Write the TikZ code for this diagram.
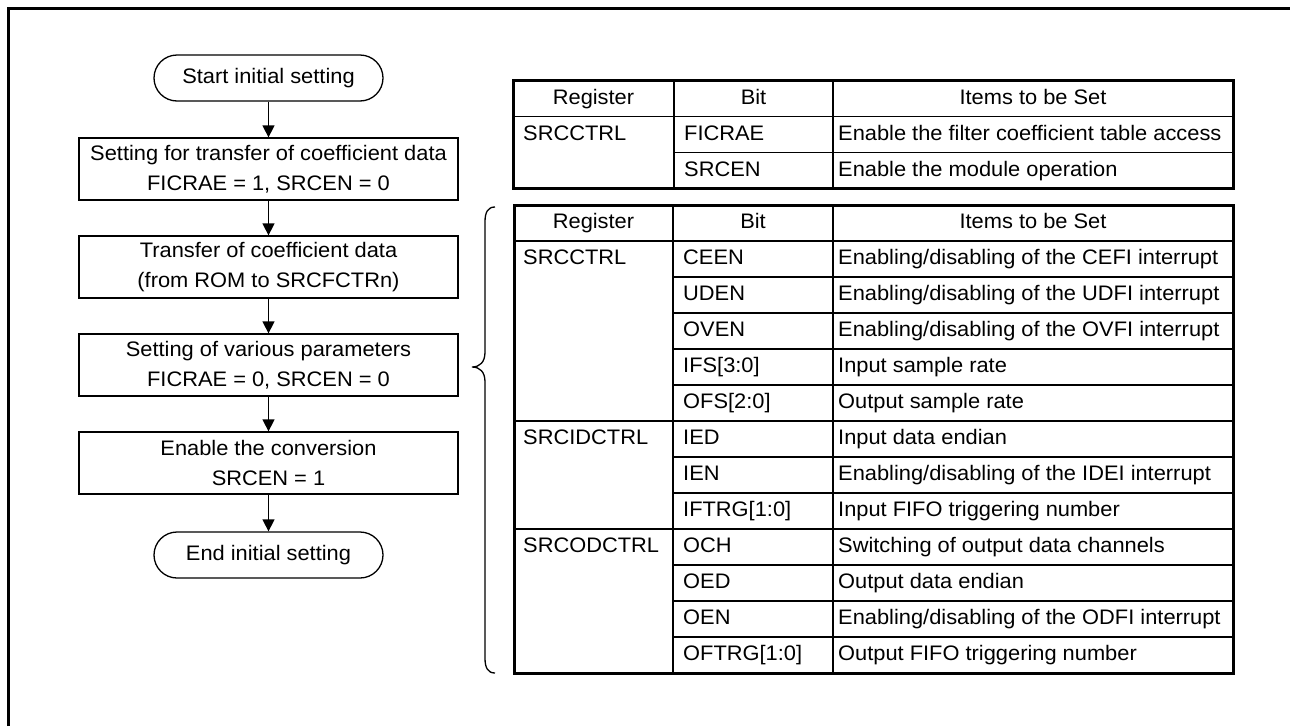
\documentclass[tikz,border=0pt]{standalone}
\usepackage{fontspec}
\setmainfont[FakeStretch=1.04]{Liberation Sans}
\usetikzlibrary{arrows.meta}

\begin{document}
\begin{tikzpicture}[x=1pt, y=-1pt, font=\fontsize{21}{30}\selectfont,
  stepbox/.style={draw, line width=1.3pt, minimum width=379pt, minimum height=62pt, align=center, inner sep=0pt},
  termbox/.style={draw, line width=1.3pt, rounded corners=23pt, minimum width=229pt, minimum height=46pt, inner sep=0pt},
  flow/.style={line width=1.4pt, -{Triangle[length=12pt, width=12pt]}},
  head/.style={anchor=base, inner sep=0pt},
  cell/.style={anchor=base west, inner sep=0pt}]
  \useasboundingbox (0,0) rectangle (1290,726);
  \draw[line width=3pt] (8,726) -- (8,8) -- (1290,8);

  % flow of the initial setting
  \node[termbox] (start) at (268.5,78) {Start initial setting};
  \node[stepbox] (s1) at (268.5,169) {Setting for transfer of coefficient data\\FICRAE = 1, SRCEN = 0};
  \node[stepbox] (s2) at (268.5,267) {Transfer of coefficient data\\(from ROM to SRCFCTRn)};
  \node[stepbox] (s3) at (268.5,365) {Setting of various parameters\\FICRAE = 0, SRCEN = 0};
  \node[stepbox] (s4) at (268.5,463) {Enable the conversion\\SRCEN = 1};
  \node[termbox] (end) at (268.5,555) {End initial setting};
  \draw[flow] (start) -- (s1);
  \draw[flow] (s1) -- (s2);
  \draw[flow] (s2) -- (s3);
  \draw[flow] (s3) -- (s4);
  \draw[flow] (s4) -- (end);

  % first table
  \draw[line width=1.8pt] (674,80.5) -- (674,188.5) (833,80.5) -- (833,188.5);
  \draw[line width=1.8pt] (513,116.5) -- (1233,116.5) (674,152.5) -- (1233,152.5);
  \draw[line width=3pt] (513,80.5) rectangle (1233,188.5);
  \node[head] (ta-reg) at (593.5,104) {Register};
  \node[head] (ta-bit) at (753.5,104) {Bit};
  \node[head] (ta-item) at (1033,104) {Items to be Set};
  \node[cell] (ta-r1) at (523,140) {SRCCTRL};
  \node[cell] (ta-b1) at (684,140) {FICRAE};
  \node[cell] (ta-i1) at (838,140) {Enable the filter coefficient table access};
  \node[cell] (ta-b2) at (684,176) {SRCEN};
  \node[cell] (ta-i2) at (838,176) {Enable the module operation};

  % brace
  \draw[line width=1.3pt] (495,207) .. controls (488,207) and (485,212) .. (485,222) -- (485,352)
    .. controls (485,362) and (480,367) .. (472,367) .. controls (480,367) and (485,372) .. (485,382)
    -- (485,658) .. controls (485,668) and (488,673) .. (495,673);

  % second table
  \draw[line width=1.8pt] (673,205) -- (673,673) (833,205) -- (833,673);
  \draw[line width=1.8pt] (514,241) -- (1233,241) (514,421) -- (1233,421) (514,529) -- (1233,529);
  \draw[line width=1.8pt] (673,277) -- (1233,277) (673,313) -- (1233,313) (673,349) -- (1233,349)
    (673,385) -- (1233,385) (673,457) -- (1233,457) (673,493) -- (1233,493)
    (673,565) -- (1233,565) (673,601) -- (1233,601) (673,637) -- (1233,637);
  \draw[line width=3pt] (514,205) rectangle (1233,673);
  \node[head] (tb-reg) at (593.5,228.5) {Register};
  \node[head] (tb-bit) at (753,228.5) {Bit};
  \node[head] (tb-item) at (1033,228.5) {Items to be Set};
  \node[cell] (tb-r1) at (523,264.5) {SRCCTRL};
  \node[cell] (tb-r6) at (523,444.5) {SRCIDCTRL};
  \node[cell] (tb-r9) at (523,552.5) {SRCODCTRL};
  \node[cell] (tb-b1) at (683,264.5) {CEEN};
  \node[cell] (tb-b2) at (683,300.5) {UDEN};
  \node[cell] (tb-b3) at (683,336.5) {OVEN};
  \node[cell] (tb-b4) at (683,372.5) {IFS[3:0]};
  \node[cell] (tb-b5) at (683,408.5) {OFS[2:0]};
  \node[cell] (tb-b6) at (683,444.5) {IED};
  \node[cell] (tb-b7) at (683,480.5) {IEN};
  \node[cell] (tb-b8) at (683,516.5) {IFTRG[1:0]};
  \node[cell] (tb-b9) at (683,552.5) {OCH};
  \node[cell] (tb-b10) at (683,588.5) {OED};
  \node[cell] (tb-b11) at (683,624.5) {OEN};
  \node[cell] (tb-b12) at (683,660.5) {OFTRG[1:0]};
  \node[cell] (tb-i1) at (838,264.5) {Enabling/disabling of the CEFI interrupt};
  \node[cell] (tb-i2) at (838,300.5) {Enabling/disabling of the UDFI interrupt};
  \node[cell] (tb-i3) at (838,336.5) {Enabling/disabling of the OVFI interrupt};
  \node[cell] (tb-i4) at (838,372.5) {Input sample rate};
  \node[cell] (tb-i5) at (838,408.5) {Output sample rate};
  \node[cell] (tb-i6) at (838,444.5) {Input data endian};
  \node[cell] (tb-i7) at (838,480.5) {Enabling/disabling of the IDEI interrupt};
  \node[cell] (tb-i8) at (838,516.5) {Input FIFO triggering number};
  \node[cell] (tb-i9) at (838,552.5) {Switching of output data channels};
  \node[cell] (tb-i10) at (838,588.5) {Output data endian};
  \node[cell] (tb-i11) at (838,624.5) {Enabling/disabling of the ODFI interrupt};
  \node[cell] (tb-i12) at (838,660.5) {Output FIFO triggering number};
\end{tikzpicture}
\end{document}
